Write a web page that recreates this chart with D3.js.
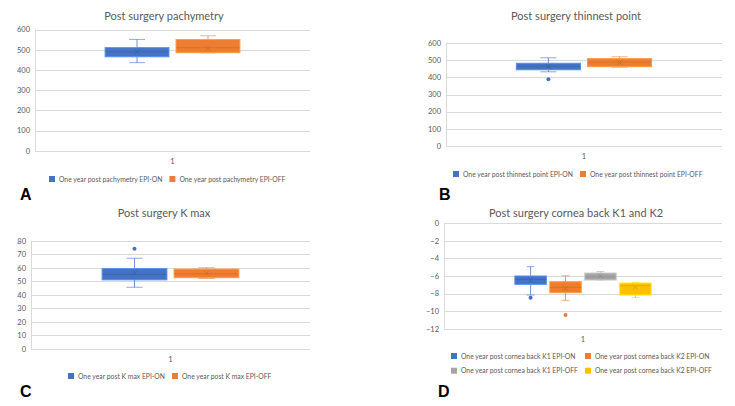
<!DOCTYPE html>
<html>
<head>
<meta charset="utf-8">
<script src="https://cdn.jsdelivr.net/npm/d3@7/dist/d3.min.js"></script>
<style>
  html, body { margin: 0; padding: 0; background: #fff; }
  svg { display: block; font-family: Lato, "Open Sans", "Liberation Sans", sans-serif; }
</style>
</head>
<body>
<svg id="chart" width="735" height="406"></svg>
<script>
// ---------- DATA ----------
const category = ["1"];

// Panel A: Post surgery pachymetry
const namesA = ["One year post pachymetry EPI-ON", "One year post pachymetry EPI-OFF"];
const minA  = [436, 485];
const q1A   = [465, 485];
const medA  = [490, 510];
const q3A   = [510, 550];
const maxA  = [551, 569];
const meanA = [490, 507];
const outA  = [[], []];
const ticksA = [0, 100, 200, 300, 400, 500, 600];

// Panel B: Post surgery thinnest point
const namesB = ["One year post thinnest point EPI-ON", "One year post thinnest point EPI-OFF"];
const minB  = [433, 460];
const q1B   = [445, 463];
const medB  = [465, 490];
const q3B   = [483, 510];
const maxB  = [515, 521];
const meanB = [463, 486];
const outB  = [[389], []];
const ticksB = [0, 100, 200, 300, 400, 500, 600];

// Panel C: Post surgery K max
const namesC = ["One year post K max EPI-ON", "One year post K max EPI-OFF"];
const minC  = [45.5, 52];
const q1C   = [51, 52.6];
const medC  = [55, 55.5];
const q3C   = [59.3, 59];
const maxC  = [67, 60];
const meanC = [56, 56];
const outC  = [[74], []];
const ticksC = [0, 10, 20, 30, 40, 50, 60, 70, 80];

// Panel D: Post surgery cornea back K1 and K2
const namesD = ["One year post cornea back K1 EPI-ON", "One year post cornea back K2 EPI-ON",
                "One year post cornea back K1 EPI-OFF", "One year post cornea back K2 EPI-OFF"];
const minD  = [-8.17, -8.77, -6.46, -8.47];
const q1D   = [-6.95, -7.9, -6.46, -8.17];
const medD  = [-6.4, -7.3, -6.1, -7.1];
const q3D   = [-6.0, -6.65, -5.66, -6.8];
const maxD  = [-4.94, -5.97, -5.5, -6.75];
const meanD = [-6.46, -7.4, -5.97, -7.29];
const outD  = [[-8.47], [-10.44], [], []];
const ticksD = [-12, -10, -8, -6, -4, -2, 0];

const colors = ["#4472C4", "#ED7D31", "#A5A5A5", "#FFC000"];

// ---------- DRAW ----------
const svg = d3.select("#chart");
const textColor = "#595959";
const gridColor = "#d9d9d9";
const legendFont = "6.8px";

function drawPanel(p) {
  const g = svg.append("g");
  const y = d3.scaleLinear().domain([p.ticks[0], p.ticks[p.ticks.length - 1]]).range([p.y1, p.y0]);
  const xCat = d3.scaleBand().domain(category).range([p.x0, p.x1]).paddingInner(0).paddingOuter(0.52);
  const xSer = d3.scaleBand().domain(p.names).range([0, xCat.bandwidth()]).paddingInner(0.1).paddingOuter(0);

  // title
  g.append("text").attr("x", p.tx).attr("y", p.ty)
    .attr("text-anchor", "middle").attr("fill", textColor)
    .style("font-size", "11px").text(p.title);

  // gridlines
  g.append("g").selectAll("line").data(p.ticks).join("line")
    .attr("x1", p.x0).attr("x2", p.x1)
    .attr("y1", d => Math.round(y(d)) + 0.5).attr("y2", d => Math.round(y(d)) + 0.5)
    .attr("stroke", gridColor).attr("stroke-width", 1);
  // left axis line
  g.append("line").attr("x1", p.x0 + 0.5).attr("x2", p.x0 + 0.5)
    .attr("y1", p.y0).attr("y2", p.y1).attr("stroke", gridColor);

  // y axis via d3.axisLeft
  const ax = g.append("g").attr("transform", `translate(${p.x0 - 3},0)`)
    .call(d3.axisLeft(y).tickValues(p.ticks).tickSize(0).tickPadding(2).tickFormat(d3.format("d")));
  ax.select(".domain").remove();
  ax.selectAll("text").attr("fill", textColor).style("font-size", "7.5px")
    .style("font-family", 'Lato, "Open Sans", sans-serif');

  // x axis category label
  const xa = g.append("g").attr("transform", `translate(0,${p.y1})`)
    .call(d3.axisBottom(xCat).tickSize(0).tickPadding(8));
  xa.select(".domain").remove();
  xa.selectAll("text").attr("fill", textColor).style("font-size", "7.5px")
    .style("font-family", 'Lato, "Open Sans", sans-serif');

  // boxes
  p.names.forEach((name, i) => {
    const bx = xCat("1") + xSer(name);
    const bw = xSer.bandwidth();
    const cx = bx + bw / 2;
    const cw = bw * 0.25;
    const col = colors[i];
    const dark = d3.color(col).darker(0.8);
    const light = d3.color(col).brighter(0.6);
    const s = g.append("g");
    // whiskers
    s.append("line").attr("x1", cx).attr("x2", cx).attr("y1", y(p.max[i])).attr("y2", y(p.q3[i]))
      .attr("stroke", col).attr("stroke-opacity", 0.75);
    s.append("line").attr("x1", cx).attr("x2", cx).attr("y1", y(p.q1[i])).attr("y2", y(p.min[i]))
      .attr("stroke", col).attr("stroke-opacity", 0.75);
    s.append("line").attr("x1", cx - cw / 2).attr("x2", cx + cw / 2)
      .attr("y1", y(p.max[i])).attr("y2", y(p.max[i])).attr("stroke", col).attr("stroke-opacity", 0.6);
    s.append("line").attr("x1", cx - cw / 2).attr("x2", cx + cw / 2)
      .attr("y1", y(p.min[i])).attr("y2", y(p.min[i])).attr("stroke", col).attr("stroke-opacity", 0.6);
    // box
    s.append("rect").attr("x", bx).attr("width", bw)
      .attr("y", y(p.q3[i])).attr("height", y(p.q1[i]) - y(p.q3[i]))
      .attr("fill", col).attr("stroke", light).attr("stroke-width", 1);
    // median
    s.append("line").attr("x1", bx).attr("x2", bx + bw)
      .attr("y1", y(p.med[i])).attr("y2", y(p.med[i]))
      .attr("stroke", dark).attr("stroke-opacity", 0.35);
    // mean marker (x)
    const my = y(p.mean[i]), m = 2.5;
    s.append("path").attr("d", `M${cx - m},${my - m}L${cx + m},${my + m}M${cx - m},${my + m}L${cx + m},${my - m}`)
      .attr("stroke", dark).attr("stroke-opacity", 0.45).attr("fill", "none");
    // outliers
    s.selectAll("circle").data(p.out[i]).join("circle")
      .attr("cx", cx).attr("cy", d => y(d)).attr("r", 2).attr("fill", col);
  });

  // legend
  const lg = g.append("g");
  const items = p.names.map((n, i) => ({ n, i }));
  const tmp = lg.append("text").style("font-size", legendFont);
  const widths = items.map(d => { tmp.text(d.n); return tmp.node().getComputedTextLength(); });
  tmp.remove();
  const perRow = p.legendCols;
  const colW = [];
  for (let c = 0; c < perRow; c++) {
    let w = 0;
    items.forEach((d, k) => { if (k % perRow === c) w = Math.max(w, widths[k]); });
    colW.push(w + 10 + 7);
  }
  items.forEach((d, k) => {
    const c = k % perRow, r = Math.floor(k / perRow);
    let lx = p.lx;
    for (let j = 0; j < c; j++) lx += colW[j];
    const ly = p.ly + r * p.lrow;
    lg.append("rect").attr("x", lx).attr("y", ly - 3).attr("width", 6).attr("height", 6).attr("fill", colors[d.i]);
    lg.append("text").attr("x", lx + 10).attr("y", ly + 2.5).attr("fill", textColor)
      .style("font-size", legendFont).text(d.n);
  });

  // panel letter
  g.append("text").attr("x", p.letterX).attr("y", p.letterY).attr("fill", "#000")
    .style("font-size", "16px").style("font-weight", "bold")
    .style("font-family", '"Liberation Sans", Arial, sans-serif').text(p.letter);
}

drawPanel({ title: "Post surgery pachymetry", names: namesA, min: minA, q1: q1A, med: medA, q3: q3A, max: maxA, mean: meanA, out: outA, ticks: ticksA,
  x0: 35, x1: 310, y0: 29.5, y1: 150.7, tx: 164, ty: 20, lx: 49, ly: 179, lrow: 15, legendCols: 2, letter: "A", letterX: 20, letterY: 199.5 });
drawPanel({ title: "Post surgery thinnest point", names: namesB, min: minB, q1: q1B, med: medB, q3: q3B, max: maxB, mean: meanB, out: outB, ticks: ticksB,
  x0: 446, x1: 722, y0: 43.3, y1: 145.7, tx: 576, ty: 20, lx: 453, ly: 174, lrow: 15, legendCols: 2, letter: "B", letterX: 439, letterY: 199.5 });
drawPanel({ title: "Post surgery K max", names: namesC, min: minC, q1: q1C, med: medC, q3: q3C, max: maxC, mean: meanC, out: outC, ticks: ticksC,
  x0: 31, x1: 310, y0: 240.7, y1: 348.7, tx: 164, ty: 217, lx: 68, ly: 376, lrow: 15, legendCols: 2, letter: "C", letterX: 20, letterY: 396.5 });
drawPanel({ title: "Post surgery cornea back K1 and K2", names: namesD, min: minD, q1: q1D, med: medD, q3: q3D, max: maxD, mean: meanD, out: outD, ticks: ticksD,
  x0: 444, x1: 722, y0: 223.3, y1: 328.7, tx: 576, ty: 217, lx: 451, ly: 356, lrow: 14.7, legendCols: 2, letter: "D", letterX: 438, letterY: 396.5 });
</script>
</body>
</html>
